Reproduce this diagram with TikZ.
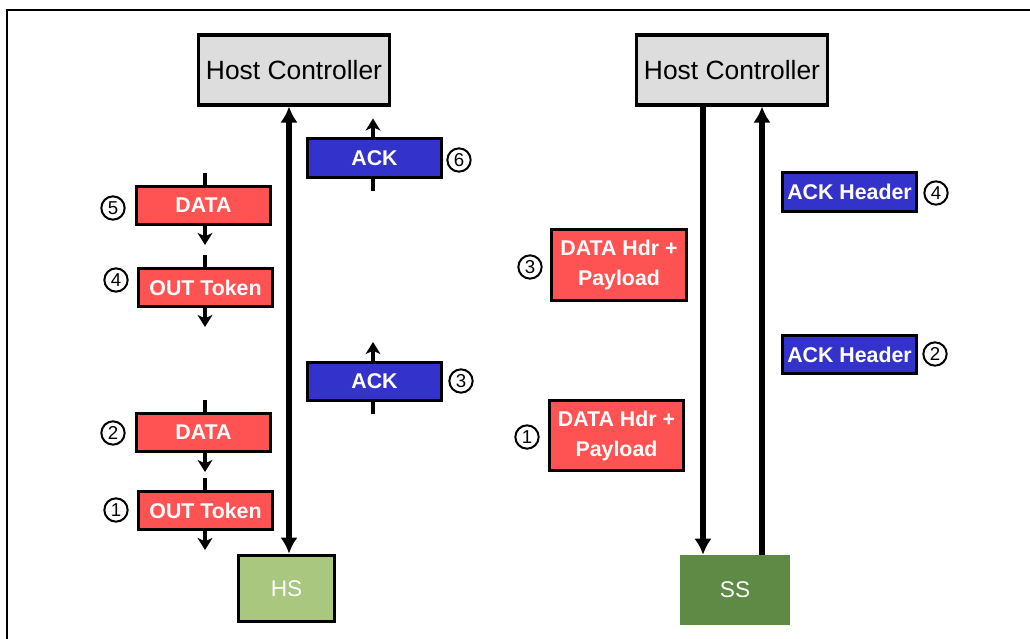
\documentclass[tikz,border=0pt]{standalone}
\usepackage{fontspec}
\setmainfont{Liberation Sans}
\usetikzlibrary{arrows.meta}
\definecolor{pktred}{HTML}{FF5252}
\definecolor{pktblue}{HTML}{3333CC}
\definecolor{hcgray}{HTML}{DDDDDD}
\definecolor{hsgreen}{HTML}{A9C77E}
\definecolor{ssgreen}{HTML}{5E8A46}
\begin{document}
\begin{tikzpicture}[x=0.75pt,y=-0.75pt,
  hcbox/.style={draw, line width=2.3pt, fill=hcgray, minimum width=143pt, minimum height=52.5pt, inner sep=0pt, font=\fontsize{19.8}{22}\selectfont},
  redbox/.style={draw, line width=2.3pt, fill=pktred, text=white, minimum width=101pt, minimum height=29pt, inner sep=0pt, align=center, font=\bfseries\fontsize{16}{18}\selectfont},
  bluebox/.style={redbox, fill=pktblue},
  tallbox/.style={redbox, minimum height=53pt, font=\bfseries\fontsize{16}{22.5}\selectfont},
  num/.style={draw, circle, line width=1.5pt, minimum size=17.5pt, inner sep=0pt, font=\fontsize{14}{14}\selectfont},
  small/.style={line width=3pt, -{Stealth[length=9pt,width=11pt,inset=2.5pt]}},
  stem/.style={line width=3pt},
  big/.style={line width=4pt, -{Latex[length=12pt,width=13pt]}},
  bigboth/.style={line width=4pt, {Latex[length=12pt,width=13pt]}-{Latex[length=12pt,width=13pt]}}
]
\useasboundingbox (0,0) rectangle (1030,638);
% frame
\draw[line width=1.7pt] (7,640) -- (7,10) -- (1032,10);

% ---------- left (HS) ----------
\node[hcbox] (hcl) at (294,70) {Host Controller};
\node[draw, line width=2.3pt, fill=hsgreen, text=white, minimum width=72.5pt, minimum height=50pt, inner sep=0pt, font=\fontsize{17}{18}\selectfont] (hs) at (286.5,588.5) {HS};
\coordinate (lx) at (289,0);
\draw[bigboth] (hcl.south -| lx) -- (hs.north -| lx);

\node[redbox] (d5) at (203.5,205.5) {DATA};
\node[redbox] (o4) at (205.5,287.5) {OUT Token};
\node[redbox] (d2) at (203.5,432.5) {DATA};
\node[redbox] (o1) at (205.5,510.5) {OUT Token};

\coordinate (cx) at (205,0);
\foreach \b in {d5,o4,d2,o1}{
  \draw[stem] ([yshift=8.5pt]\b.north -| cx) -- (\b.north -| cx);
  \draw[small] (\b.south -| cx) -- ([yshift=-14pt]\b.south -| cx);
}

\node[num] (n5) at (113,208) {5};
\node[num] (n4) at (116,280) {4};
\node[num] (n2) at (113,433) {2};
\node[num] (n1) at (116,510) {1};

\node[bluebox] (a6) at (374.5,158) {ACK};
\node[bluebox] (a3) at (374.5,381.5) {ACK};
\coordinate (ax) at (373,0);
\foreach \b in {a6,a3}{
  \draw[stem] ([yshift=-9pt]\b.south -| ax) -- (\b.south -| ax);
  \draw[small] (\b.north -| ax) -- ([yshift=14pt]\b.north -| ax);
}
\node[num] (n6) at (459,160) {6};
\node[num] (n3) at (461,381) {3};

% ---------- right (SS) ----------
\node[hcbox] (hcr) at (732,70) {Host Controller};
\node[fill=ssgreen, text=white, minimum width=82.5pt, minimum height=52.5pt, inner sep=0pt, font=\fontsize{17}{18}\selectfont] (ss) at (735,590) {SS};
\coordinate (dx) at (703,0);
\coordinate (ux) at (762,0);
\draw[big] (hcr.south -| dx) -- (ss.north -| dx);
\draw[big] (ss.north -| ux) -- (hcr.south -| ux);

\node[tallbox] (p3) at (619,265) {DATA Hdr +\\Payload};
\node[tallbox] (p1) at (616.5,435.5) {DATA Hdr +\\Payload};
\node[num] (m3) at (530,267) {3};
\node[num] (m1) at (527,437) {1};

\node[bluebox] (h4) at (849.5,192) {ACK Header};
\node[bluebox] (h2) at (849.5,354.5) {ACK Header};
\node[num] (m4) at (936,193) {4};
\node[num] (m2) at (935,354) {2};
\end{tikzpicture}
\end{document}
